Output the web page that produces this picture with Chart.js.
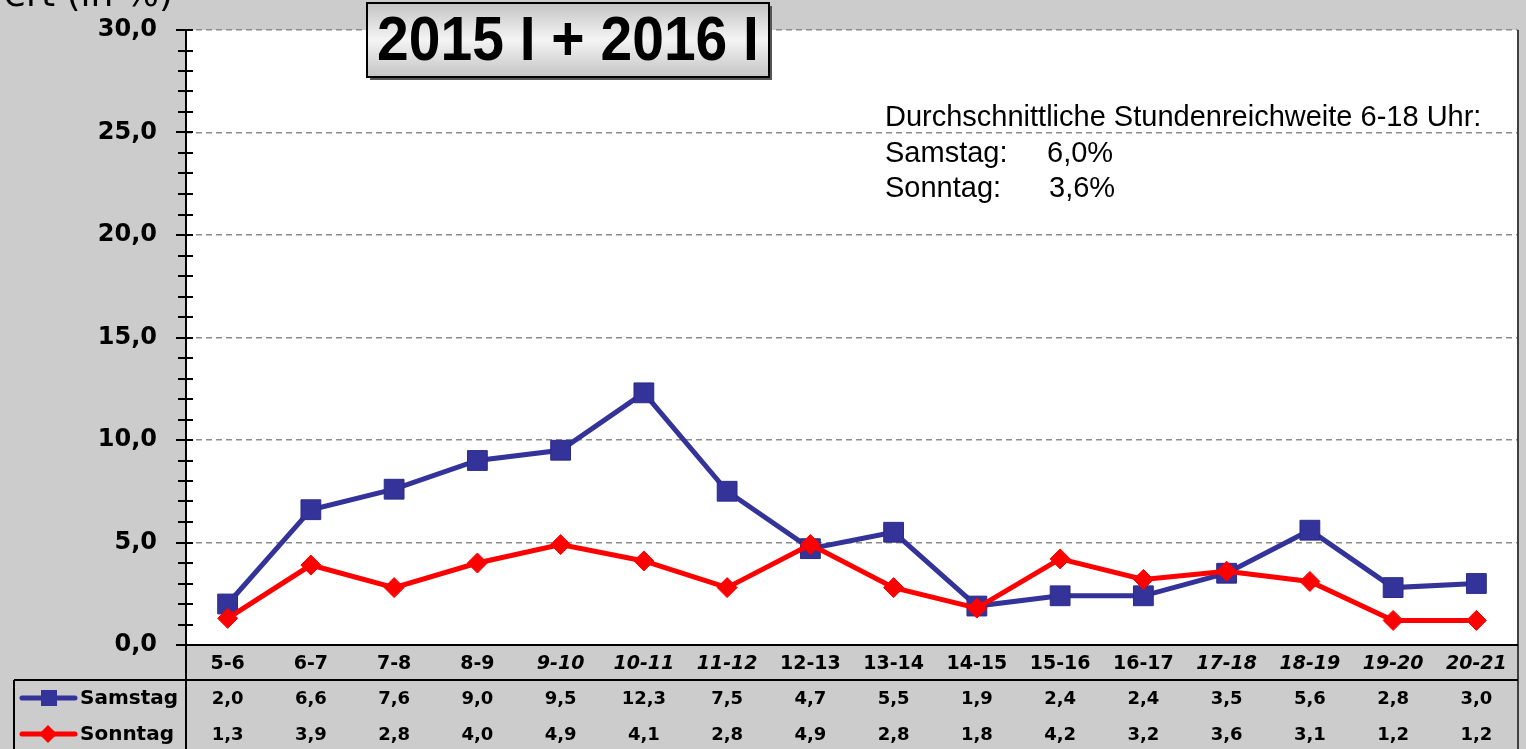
<!DOCTYPE html>
<html>
<head>
<meta charset="utf-8">
<script src="https://cdn.jsdelivr.net/npm/chart.js@4/dist/chart.umd.min.js"></script>
<style>
  html, body { margin: 0; padding: 0; background: #cccccc; overflow: hidden; }
  #wrap { width: 1526px; height: 749px; }
</style>
</head>
<body>
<div id="wrap"><canvas id="reachChart" width="1526" height="749"></canvas></div>
<script>
const hours = ['5-6', '6-7', '7-8', '8-9', '9-10', '10-11', '11-12', '12-13', '13-14', '14-15', '15-16', '16-17', '17-18', '18-19', '19-20', '20-21'];
const samstag = [2.0, 6.6, 7.6, 9.0, 9.5, 12.3, 7.5, 4.7, 5.5, 1.9, 2.4, 2.4, 3.5, 5.6, 2.8, 3.0];
const sonntag = [1.3, 3.9, 2.8, 4.0, 4.9, 4.1, 2.8, 4.9, 2.8, 1.8, 4.2, 3.2, 3.6, 3.1, 1.2, 1.2];
const yTicks = [0, 5, 10, 15, 20, 25, 30];
const avgLabels = ['Samstag:', 'Sonntag:'];
const avgValues = ['6,0%', '3,6%'];

const italicHours = [4, 5, 6, 12, 13, 14, 15];
const fmt = v => v.toFixed(1).replace('.', ',');
const FONT = '"Liberation Sans", Arial, sans-serif';
const WIDE = '"DejaVu Sans", sans-serif';

// background, axes, tick marks, table, title box, text
const decorations = {
  id: 'decorations',
  beforeDraw(chart) {
    const { ctx, chartArea: a } = chart;
    ctx.save();
    ctx.fillStyle = '#cccccc';
    ctx.fillRect(0, 0, chart.width, chart.height);
    ctx.fillStyle = '#ffffff';
    ctx.fillRect(a.left, a.top, a.right - a.left, a.bottom - a.top);
    ctx.restore();
  },
  afterDatasetsDraw(chart) {
    const { ctx, chartArea: a, scales } = chart;
    const x = scales.x, y = scales.y;
    ctx.save();

    // right border of plot
    ctx.strokeStyle = '#404040';
    ctx.lineWidth = 2;
    ctx.beginPath();
    ctx.moveTo(a.right, a.top);
    ctx.lineTo(a.right, chart.height);
    ctx.stroke();

    // y axis line + tick marks
    ctx.strokeStyle = '#000000';
    ctx.lineWidth = 2;
    ctx.beginPath();
    ctx.moveTo(a.left, a.top);
    ctx.lineTo(a.left, chart.height);
    ctx.stroke();
    for (let v = 0; v <= 30; v++) {
      const py = Math.round(y.getPixelForValue(v));
      ctx.beginPath();
      ctx.moveTo(a.left - (v % 5 === 0 ? 10 : 8), py);
      ctx.lineTo(a.left + 7, py);
      ctx.stroke();
    }

    // x axis line / table lines
    ctx.beginPath();
    ctx.moveTo(a.left - 10, a.bottom);
    ctx.lineTo(a.right, a.bottom);
    ctx.stroke();
    const rowTop = a.bottom + 35;
    ctx.beginPath();
    ctx.moveTo(14, rowTop);
    ctx.lineTo(a.right, rowTop);
    ctx.moveTo(14, rowTop);
    ctx.lineTo(14, chart.height);
    ctx.stroke();

    // table rows
    const rows = [
      { name: 'Samstag', data: samstag, color: '#333399', style: 'rect' },
      { name: 'Sonntag', data: sonntag, color: '#ff0000', style: 'rectRot' }
    ];
    ctx.textBaseline = 'middle';
    rows.forEach((r, i) => {
      const ry = rowTop + 18 + i * 36;
      ctx.strokeStyle = r.color;
      ctx.lineWidth = 5;
      ctx.lineCap = 'round';
      ctx.beginPath();
      ctx.moveTo(22, ry);
      ctx.lineTo(75, ry);
      ctx.stroke();
      ctx.fillStyle = r.color;
      if (r.style === 'rect') {
        ctx.fillRect(41, ry - 8, 16, 16);
      } else {
        ctx.beginPath();
        ctx.moveTo(48, ry - 9); ctx.lineTo(57, ry); ctx.lineTo(48, ry + 9); ctx.lineTo(39, ry);
        ctx.closePath();
        ctx.fill();
      }
      ctx.fillStyle = '#000000';
      ctx.font = 'bold 20px ' + WIDE;
      ctx.textAlign = 'left';
      ctx.fillText(r.name, 80, ry + 1);
      ctx.textAlign = 'center';
      ctx.font = 'bold 18px ' + WIDE;
      r.data.forEach((v, k) => {
        ctx.fillText(fmt(v), x.getPixelForValue(k), ry + 1);
      });
    });

    // axis title (cut off at the left edge)
    ctx.font = '36px ' + WIDE;
    ctx.textAlign = 'right';
    ctx.textBaseline = 'alphabetic';
    ctx.fillText('Wert (in %)', 173, 6);

    // average note
    ctx.font = '29px ' + FONT;
    ctx.textAlign = 'left';
    ctx.fillText('Durchschnittliche Stundenreichweite 6-18 Uhr:', 885, 126);
    avgLabels.forEach((l, i) => {
      ctx.fillText(l, 885, 162 + i * 35);
      ctx.fillText(avgValues[i], 1047 + i * 2, 162 + i * 35);
    });

    // title box
    const bx = 367, by = 3, bw = 402, bh = 74;
    ctx.fillStyle = '#555555';
    ctx.fillRect(bx + 3, by + 3, bw, bh);
    const g = ctx.createLinearGradient(0, by, 0, by + bh);
    g.addColorStop(0, '#c4c4c4');
    g.addColorStop(0.5, '#f4f4f4');
    g.addColorStop(1, '#c4c4c4');
    ctx.fillStyle = g;
    ctx.fillRect(bx, by, bw, bh);
    ctx.strokeStyle = '#000000';
    ctx.lineWidth = 2;
    ctx.strokeRect(bx, by, bw, bh);
    ctx.fillStyle = '#000000';
    ctx.textAlign = 'center';
    ctx.textBaseline = 'middle';
    ctx.translate(bx + bw / 2, by + bh / 2 + 3);
    ctx.scale(1, 1.1);
    ctx.font = 'bold 57px ' + FONT;
    ctx.fillText('2015 I + 2016 I', 0, 0);
    ctx.restore();
  }
};

new Chart(document.getElementById('reachChart').getContext('2d'), {
  type: 'line',
  data: {
    labels: hours,
    datasets: [
      {
        label: 'Samstag',
        data: samstag,
        borderColor: '#333399',
        backgroundColor: '#333399',
        borderWidth: 5,
        pointStyle: 'rect',
        pointRadius: 14,
        pointBorderWidth: 1,
        pointBorderColor: '#2b2b8a',
        tension: 0,
        order: 1
      },
      {
        label: 'Sonntag',
        data: sonntag,
        borderColor: '#ff0000',
        backgroundColor: '#ff0000',
        borderWidth: 5,
        pointStyle: 'rectRot',
        pointRadius: 10,
        pointBorderWidth: 1,
        pointBorderColor: '#ff0000',
        tension: 0,
        order: 0
      }
    ]
  },
  options: {
    responsive: false,
    animation: false,
    layout: { autoPadding: false, padding: { top: 30, right: 8, left: 0, bottom: 0 } },
    plugins: { legend: { display: false }, tooltip: { enabled: false } },
    scales: {
      x: {
        offset: true,
        grid: { display: false, drawTicks: false },
        border: { display: false },
        ticks: {
          padding: 8,
          color: '#000000',
          maxRotation: 0,
          autoSkip: false,
          font: ctx => ({ family: WIDE, size: 19, weight: 'bold', style: italicHours.includes(ctx.index) ? 'italic' : 'normal' })
        },
        afterFit: s => { s.height = 104; s.paddingLeft = 0; s.paddingRight = 0; }
      },
      y: {
        min: 0,
        max: 30,
        afterBuildTicks: s => { s.ticks = yTicks.map(v => ({ value: v })); },
        grid: {
          drawTicks: false,
          color: c => (c.tick && c.tick.value > 0 ? '#8c8c8c' : 'rgba(0,0,0,0)'),
          lineWidth: 1.5
        },
        border: { display: false, dash: [6, 4] },
        ticks: {
          padding: 29,
          color: '#000000',
          font: { family: WIDE, size: 24, weight: 'bold' },
          callback: v => fmt(v)
        },
        afterFit: s => { s.width = 186; s.paddingTop = 0; s.paddingBottom = 0; }
      }
    }
  },
  plugins: [decorations]
});
</script>
</body>
</html>
